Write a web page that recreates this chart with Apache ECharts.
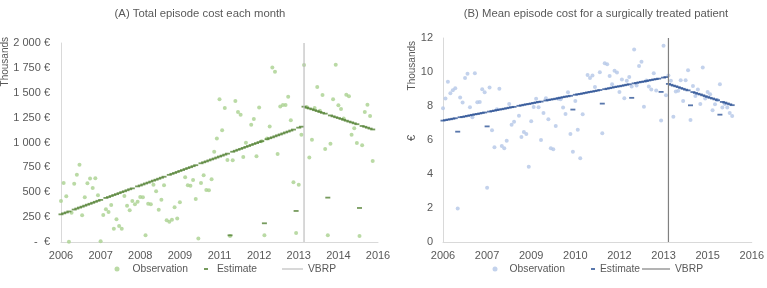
<!DOCTYPE html>
<html>
<head>
<meta charset="utf-8">
<script src="https://cdn.jsdelivr.net/npm/echarts@6/dist/echarts.min.js"></script>
<style>
  html, body { margin: 0; background: #fff; }
  #chart { width: 767px; height: 288px; }
</style>
</head>
<body>
<div id="chart"></div>
<script>
// months counted from Jan 2006
const vbrpMonth = 92

// (A) total episode cost, thousands of euro
const obsA = [
  [0,412],[1,593],[2,459],[3,3],[4,295],[5,586],[6,677],[7,777],[8,268],[9,449],
  [10,590],[11,637],[12,543],[13,640],[14,469],[15,7],[16,271],[17,328],[18,302],[19,372],
  [20,134],[21,228],[22,161],[23,134],[24,462],[25,365],[26,318],[27,412],[28,379],[29,405],
  [30,452],[31,449],[32,67],[33,385],[34,379],[35,576],[36,509],[37,325],[38,425],[39,570],
  [40,218],[41,204],[42,224],[43,348],[44,235],[45,399],
  [47,650],[48,570],[49,566],[50,623],[51,432],[52,34],[53,593],[54,670],[55,523],[56,519],
  [57,630],[58,908],[59,1039],[60,1434],[61,1122],[62,1347],[63,824],[64,60],[65,821],[66,1417],
  [67,1307],[68,1280],[69,854],[70,998],
  [72,1179],[73,1236],[74,861],[75,1353],[76,1012],[77,67],[78,1039],[79,1162],[80,1755],[81,1712],
  [82,884],[83,1363],[84,1377],[85,1377],[86,1461],[87,1223],[88,600],[89,90],[90,576],[91,1079],
  [92,1779],[93,1357],[94,848],[95,1028],[96,1347],[97,1558],[98,1320],[99,1477],[100,935],[101,67],
  [102,988],[103,1434],[104,1782],[105,1374],[106,1337],[107,1240],[108,1481],[109,1464],[110,1079],[111,1142],
  [112,995],[113,60],[114,972],[115,1307],[116,1380],[117,1266],[118,814]
]
const estA = [
  278,288,297,307,null,326,336,346,355,365,
  375,384,394,404,414,423,null,443,452,462,
  472,481,491,501,510,520,530,539,null,559,
  568,578,588,597,607,617,626,636,646,656,
  null,675,685,694,704,714,723,733,743,752,
  762,772,null,791,801,810,820,830,839,849,
  859,868,878,888,67,907,917,927,936,946,
  956,965,975,985,994,1004,1014,188,1033,1043,
  1052,1062,1072,1081,1091,1101,1110,1120,1130,312,
  1149,1159,1360,1351,1342,1334,1325,1316,1307,1298,
  1290,446,1272,1263,1254,1246,1237,1228,1219,1210,
  1202,1193,1184,342,1166,1158,1149,1140,1131
]

// (B) mean episode cost per patient, thousands of euro
const obsB = [
  [0,7.87],[1,8.44],[2,9.42],[3,8.75],[4,8.93],[5,9.05],[6,1.97],[7,8.50],[8,8.20],[9,9.64],
  [10,9.89],[11,7.93],[12,7.34],[13,9.93],[14,8.22],[15,8.24],[16,8.99],[17,8.81],[18,3.19],[19,9.09],
  [20,6.57],[21,5.57],[22,7.81],[23,9.01],[24,5.64],[25,5.51],[26,5.96],[27,8.12],[28,6.90],[29,7.08],
  [31,7.43],[32,6.17],[33,6.47],[34,6.35],[35,4.42],[36,7.10],[37,7.94],[38,8.42],[39,7.93],[40,6.00],
  [41,7.59],[42,8.46],[43,7.22],[44,5.51],[45,5.45],[46,6.82],[47,8.42],[48,8.40],[49,7.91],[50,7.53],
  [51,8.81],[52,6.35],[53,5.31],[54,8.30],[55,6.61],[56,4.92],[57,7.51],[59,9.83],[60,9.64],[61,9.79],
  [62,9.12],[64,9.99],[65,6.39],[66,10.52],[67,10.46],[68,9.77],[69,9.28],[70,10.07],[71,9.97],[72,8.83],
  [73,9.56],[74,8.46],[75,9.48],[76,9.71],[77,9.14],[78,11.33],[79,9.20],[80,10.36],[81,10.60],[82,7.96],
  [83,9.50],[84,9.14],[85,8.97],[86,9.93],[87,8.91],[89,7.14],[90,11.54],[91,8.63],[92,9.79],[93,9.48],
  [94,7.37],[95,8.85],[96,8.89],[97,9.52],[98,8.30],[99,9.52],[100,10.11],[101,7.18],[102,9.18],[103,8.59],
  [104,8.97],[105,8.12],[106,10.27],[107,8.44],[108,8.83],[109,8.69],[110,7.75],[111,8.10],[112,8.36],[113,9.28],
  [114,7.91],[115,8.12],[116,7.91],[117,7.59],[118,7.41]
]
const estB = [
  7.14,7.17,7.20,7.22,7.25,7.28,6.49,7.34,7.36,7.39,
  7.42,7.45,7.48,7.51,7.53,7.56,7.59,7.62,6.80,7.67,
  7.70,7.73,7.76,7.79,7.81,7.84,7.87,7.90,7.93,7.95,
  null,8.01,8.04,8.07,8.10,8.12,8.15,8.18,8.21,8.24,
  8.26,null,8.32,8.35,8.38,8.40,8.43,8.46,8.49,8.52,
  8.55,8.57,8.60,7.79,8.66,8.69,8.71,8.74,8.77,8.80,
  8.83,8.85,8.88,8.91,8.94,8.14,8.99,9.02,9.05,9.08,
  9.11,9.14,9.16,9.19,9.22,9.25,9.28,8.48,9.33,9.36,
  9.39,9.42,9.44,9.47,9.50,9.53,9.56,9.58,9.61,8.83,
  9.67,9.70,9.30,9.25,9.20,9.16,9.11,9.06,9.01,8.96,
  8.92,8.04,8.82,8.77,8.72,8.68,8.63,8.58,8.53,8.48,
  8.44,8.39,8.34,7.49,8.24,8.20,8.15,8.10,8.05
]

const FONT = '"Liberation Sans", sans-serif'
const TXT = '#595959'

const toPoints = arr => arr.map((v, i) => [i, v]).filter(p => p[1] !== null)
const yearLabel = v => String(2006 + Math.floor(v / 12))
const euroLabel = v => v === 0 ? '-  €' : (v >= 1000 ? Math.floor(v / 1000) + ' ' + String(v % 1000).padStart(3, '0') : v) + ' €'

const xAxisBase = (grid, max, step) => ({
  type: 'value', gridIndex: grid, min: 0, max: max, interval: step,
  splitLine: { show: false },
  axisTick: { show: false },
  axisLine: { lineStyle: { color: '#d9d9d9' } },
  axisLabel: { color: TXT, fontFamily: FONT, fontSize: 11, formatter: yearLabel, showMaxLabel: true }
})

// one legend per entry so each key sits where the original has it
const legendItem = (name, icon, left, w, h, padLeft) => ({
  data: [{ name: name, icon: icon }], left: left, top: 259, itemWidth: w, itemHeight: h,
  textStyle: { color: TXT, fontFamily: FONT, fontSize: 10.3, padding: [0, 0, 0, padLeft] }
})

const chart = echarts.init(document.getElementById('chart'), null, { renderer: 'canvas' })

chart.setOption({
  animation: false,
  title: [
    { text: '(A) Total episode cost each month', left: 195, top: 3, textAlign: 'center',
      textStyle: { color: TXT, fontFamily: FONT, fontSize: 11.3, fontWeight: 'normal' } },
    { text: '(B) Mean episode cost for a surgically treated patient', left: 591, top: 3, textAlign: 'center',
      textStyle: { color: TXT, fontFamily: FONT, fontSize: 11.3, fontWeight: 'normal' } }
  ],
  grid: [
    { left: 61, right: 389, top: 43, bottom: 46 },
    { left: 443, right: 11, top: 38, bottom: 46 }
  ],
  xAxis: [ xAxisBase(0, 120, 15), xAxisBase(1, 126, 18) ],
  yAxis: [
    { type: 'value', gridIndex: 0, min: 0, max: 2000, interval: 250,
      splitLine: { show: false }, axisTick: { show: false },
      axisLine: { show: true, lineStyle: { color: '#d9d9d9' } },
      axisLabel: { color: TXT, fontFamily: FONT, fontSize: 11, margin: 11, formatter: euroLabel } },
    { type: 'value', gridIndex: 1, min: 0, max: 12, interval: 2,
      splitLine: { show: false }, axisTick: { show: false },
      axisLine: { show: true, lineStyle: { color: '#d9d9d9' } },
      axisLabel: { color: TXT, fontFamily: FONT, fontSize: 11, margin: 10 } }
  ],
  legend: [
    legendItem('Observation', 'circle', 109.5, 5, 5, 8),
    legendItem('Estimate', 'rect', 199, 4, 2, 4),
    legendItem('VBRP', 'rect', 277, 21, 1.2, 0),
    legendItem('Observation ', 'circle', 487.5, 5, 5, 7),
    legendItem('Estimate ', 'rect', 586, 4, 2, 0),
    legendItem('VBRP ', 'rect', 637, 28, 1.2, 0)
  ],
  graphic: [
    { type: 'text', left: 0, top: 37, rotation: Math.PI / 2,
      style: { text: 'Thousands', fill: TXT, font: '10px ' + FONT } },
    { type: 'text', left: 407, top: 41, rotation: Math.PI / 2,
      style: { text: 'Thousands', fill: TXT, font: '10px ' + FONT } },
    { type: 'text', left: 406, top: 135, rotation: Math.PI / 2,
      style: { text: '€', fill: TXT, font: '11px ' + FONT } }
  ],
  series: [
    { name: 'Observation', type: 'scatter', xAxisIndex: 0, yAxisIndex: 0, data: obsA,
      symbol: 'circle', symbolSize: 4, itemStyle: { color: '#a9d18e' } },
    { name: 'Estimate', type: 'scatter', xAxisIndex: 0, yAxisIndex: 0, data: toPoints(estA),
      symbol: 'rect', symbolSize: [5, 1.8], itemStyle: { color: '#548235' } },
    { name: 'VBRP', type: 'line', xAxisIndex: 0, yAxisIndex: 0, symbol: 'none',
      data: [[vbrpMonth, 0], [vbrpMonth, 2000]],
      itemStyle: { color: '#bfbfbf' }, lineStyle: { color: '#bfbfbf', width: 1.2 } },
    { name: 'Observation ', type: 'scatter', xAxisIndex: 1, yAxisIndex: 1, data: obsB,
      symbol: 'circle', symbolSize: 4, itemStyle: { color: '#b4c7e7' } },
    { name: 'Estimate ', type: 'scatter', xAxisIndex: 1, yAxisIndex: 1, data: toPoints(estB),
      symbol: 'rect', symbolSize: [5, 1.8], itemStyle: { color: '#2f5597' } },
    { name: 'VBRP ', type: 'line', xAxisIndex: 1, yAxisIndex: 1, symbol: 'none',
      data: [[vbrpMonth, 0], [vbrpMonth, 12]],
      itemStyle: { color: '#808080' }, lineStyle: { color: '#808080', width: 1.2 } }
  ]
})
</script>
</body>
</html>
